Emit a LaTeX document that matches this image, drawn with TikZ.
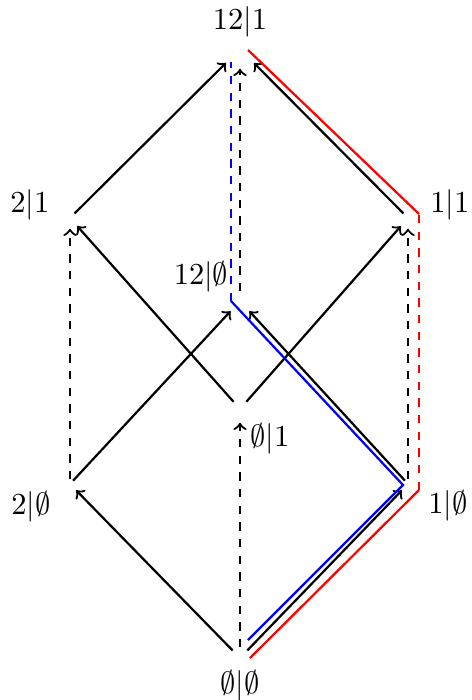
\documentclass[tikz,border=0pt]{standalone}
\begin{document}
\begin{tikzpicture}[x=0.36pt, y=-0.36pt,
        vtx/.style={circle, inner sep=0pt, minimum size=#1},
        lbl/.style={scale=1.1},
        arr/.style={->, thick, shorten >=1.5pt}]
        \useasboundingbox (0,0) rectangle (471,700);

        % corners of the cube
        \node[vtx=7.2pt] (e) at (240,658) {};
        \node[vtx=2.9pt] (a) at (70,484) {};
        \node[vtx=2.9pt] (b) at (408,484) {};
        \node[vtx=6.5pt] (c) at (240,409) {};
        \node[vtx=6.5pt] (m) at (240,301) {};
        \node[vtx=4.3pt] (l) at (70,218) {};
        \node[vtx=4.3pt] (r) at (408,218) {};
        \node[vtx=10.8pt] (t) at (240,49) {};

        \node[lbl] (te) at (240,686) {$\emptyset|\emptyset$};
        \node[lbl] (ta) at (31,507) {$2|\emptyset$};
        \node[lbl] (tb) at (448,506) {$1|\emptyset$};
        \node[lbl] (tc) at (270,439) {$\emptyset|1$};
        \node[lbl] (tm) at (201,277) {$12|\emptyset$};
        \node[lbl] (tl) at (30,205) {$2|1$};
        \node[lbl] (tr) at (450,205) {$1|1$};
        \node[lbl] (tt) at (240,22) {$12|1$};

        \foreach \p/\q in {e/a, e/b, a/m, b/m, c/l, c/r, l/t, r/t}
            \draw[arr] (\p) -- (\q);
        \foreach \p/\q in {e/c, a/l, b/r, m/t}
            \draw[arr, dashed] (\p) -- (\q);

        % the two paths
        \coordinate (b1) at (248,640);
        \coordinate (b2) at (403,485);
        \coordinate (b3) at (231,301);
        \coordinate (b4) at (231,62);
        \draw[blue, thick] (b1) -- (b2) -- (b3);
        \draw[blue, thick, dashed] (b3) -- (b4);

        \coordinate (r1) at (250,658);
        \coordinate (r2) at (419,490);
        \coordinate (r3) at (419,214);
        \coordinate (r4) at (248,50);
        \draw[red, thick] (r1) -- (r2);
        \draw[red, thick, dashed] (r2) -- (r3);
        \draw[red, thick] (r3) -- (r4);
    \end{tikzpicture}
\end{document}
